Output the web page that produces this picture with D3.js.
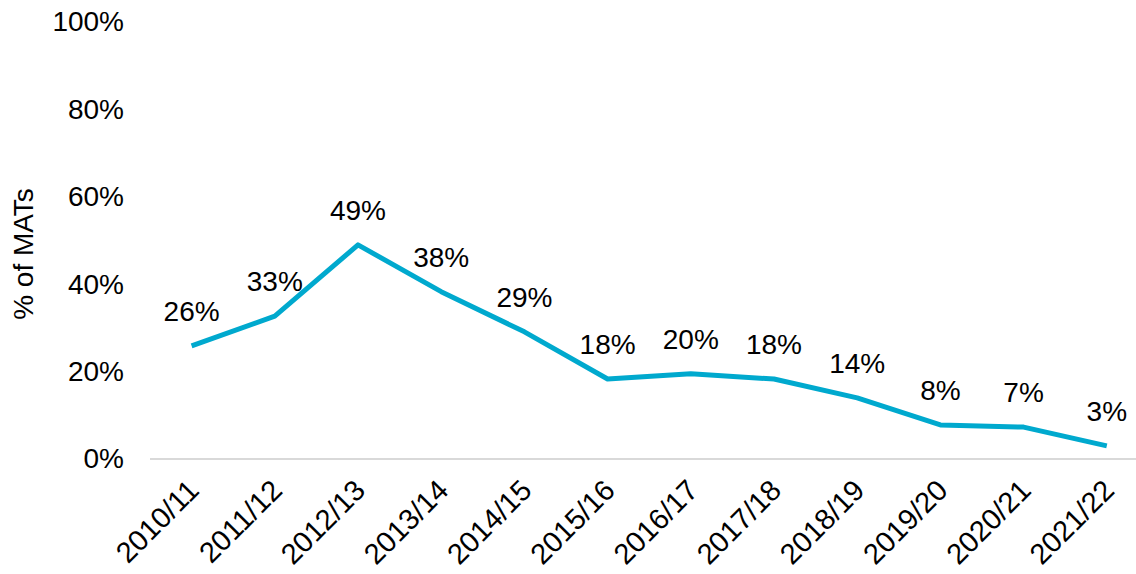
<!DOCTYPE html>
<html>
<head>
<meta charset="utf-8">
<script src="https://cdn.jsdelivr.net/npm/d3@7"></script>
<style>
  body { margin: 0; background: #fff; }
  text { font-family: "Liberation Sans", Arial, sans-serif; fill: #000; }
</style>
</head>
<body>
<div id="chart"></div>
<script>
let years = ["2010/11", "2011/12", "2012/13", "2013/14", "2014/15", "2015/16",
  "2016/17", "2017/18", "2018/19", "2019/20", "2020/21", "2021/22"];
let share = [25.9, 32.7, 49, 38.3, 29.1, 18.3, 19.5, 18.3, 14, 7.8, 7.3, 3];
let shareLabels = ["26%", "33%", "49%", "38%", "29%", "18%", "20%", "18%", "14%", "8%", "7%", "3%"];
let yTicks = [0, 20, 40, 60, 80, 100];

let svg = d3.select("#chart").append("svg")
  .attr("width", 1136)
  .attr("height", 574);

let margin = {top: 22, left: 150};
let plotW = 12 * 83.2, plotH = 437;

let g = svg.append("g")
  .attr("transform", "translate(" + margin.left + "," + margin.top + ")");

let x = d3.scaleBand()
  .domain(years)
  .range([0, plotW]);

let y = d3.scaleLinear()
  .domain([0, 100])
  .range([plotH, 0]);

// y axis labels
let yAxis = d3.axisLeft(y).tickValues(yTicks)
  .tickFormat(d => d + "%")
  .tickSize(0).tickPadding(26);

g.append("g")
  .call(yAxis)
  .call(s => s.select(".domain").remove())
  .selectAll("text")
  .style("font-size", "28px")
  .attr("fill", "#000");

// baseline
g.append("line")
  .attr("x1", 0).attr("x2", plotW)
  .attr("y1", y(0)).attr("y2", y(0))
  .attr("stroke", "#d9d9d9")
  .attr("stroke-width", 2);

// x labels
let xAxis = d3.axisBottom(x).tickSize(0).tickPadding(0);
g.append("g")
  .attr("transform", "translate(0," + plotH + ")")
  .call(xAxis)
  .call(s => s.select(".domain").remove())
  .selectAll("text")
  .style("font-size", "29px")
  .attr("fill", "#000")
  .attr("text-anchor", "end")
  .attr("dy", 0)
  .attr("y", 0)
  .attr("transform", "translate(9,33) rotate(-45)");

// line
let line = d3.line()
  .x((d, i) => x(years[i]) + x.bandwidth() / 2)
  .y(d => y(d));

g.append("path")
  .datum(share)
  .attr("d", line)
  .attr("fill", "none")
  .attr("stroke", "#00a9ce")
  .attr("stroke-width", 5)
  .attr("stroke-linejoin", "round");

// data labels
g.selectAll(".lbl")
  .data(share)
  .enter().append("text")
  .attr("class", "lbl")
  .attr("x", (d, i) => x(years[i]) + x.bandwidth() / 2)
  .attr("y", d => y(d) - 25)
  .attr("text-anchor", "middle")
  .style("font-size", "28px")
  .text((d, i) => shareLabels[i]);

// y title
svg.append("text")
  .attr("transform", "translate(33,254) rotate(-90)")
  .attr("text-anchor", "middle")
  .style("font-size", "28px")
  .text("% of MATs");
</script>
</body>
</html>
